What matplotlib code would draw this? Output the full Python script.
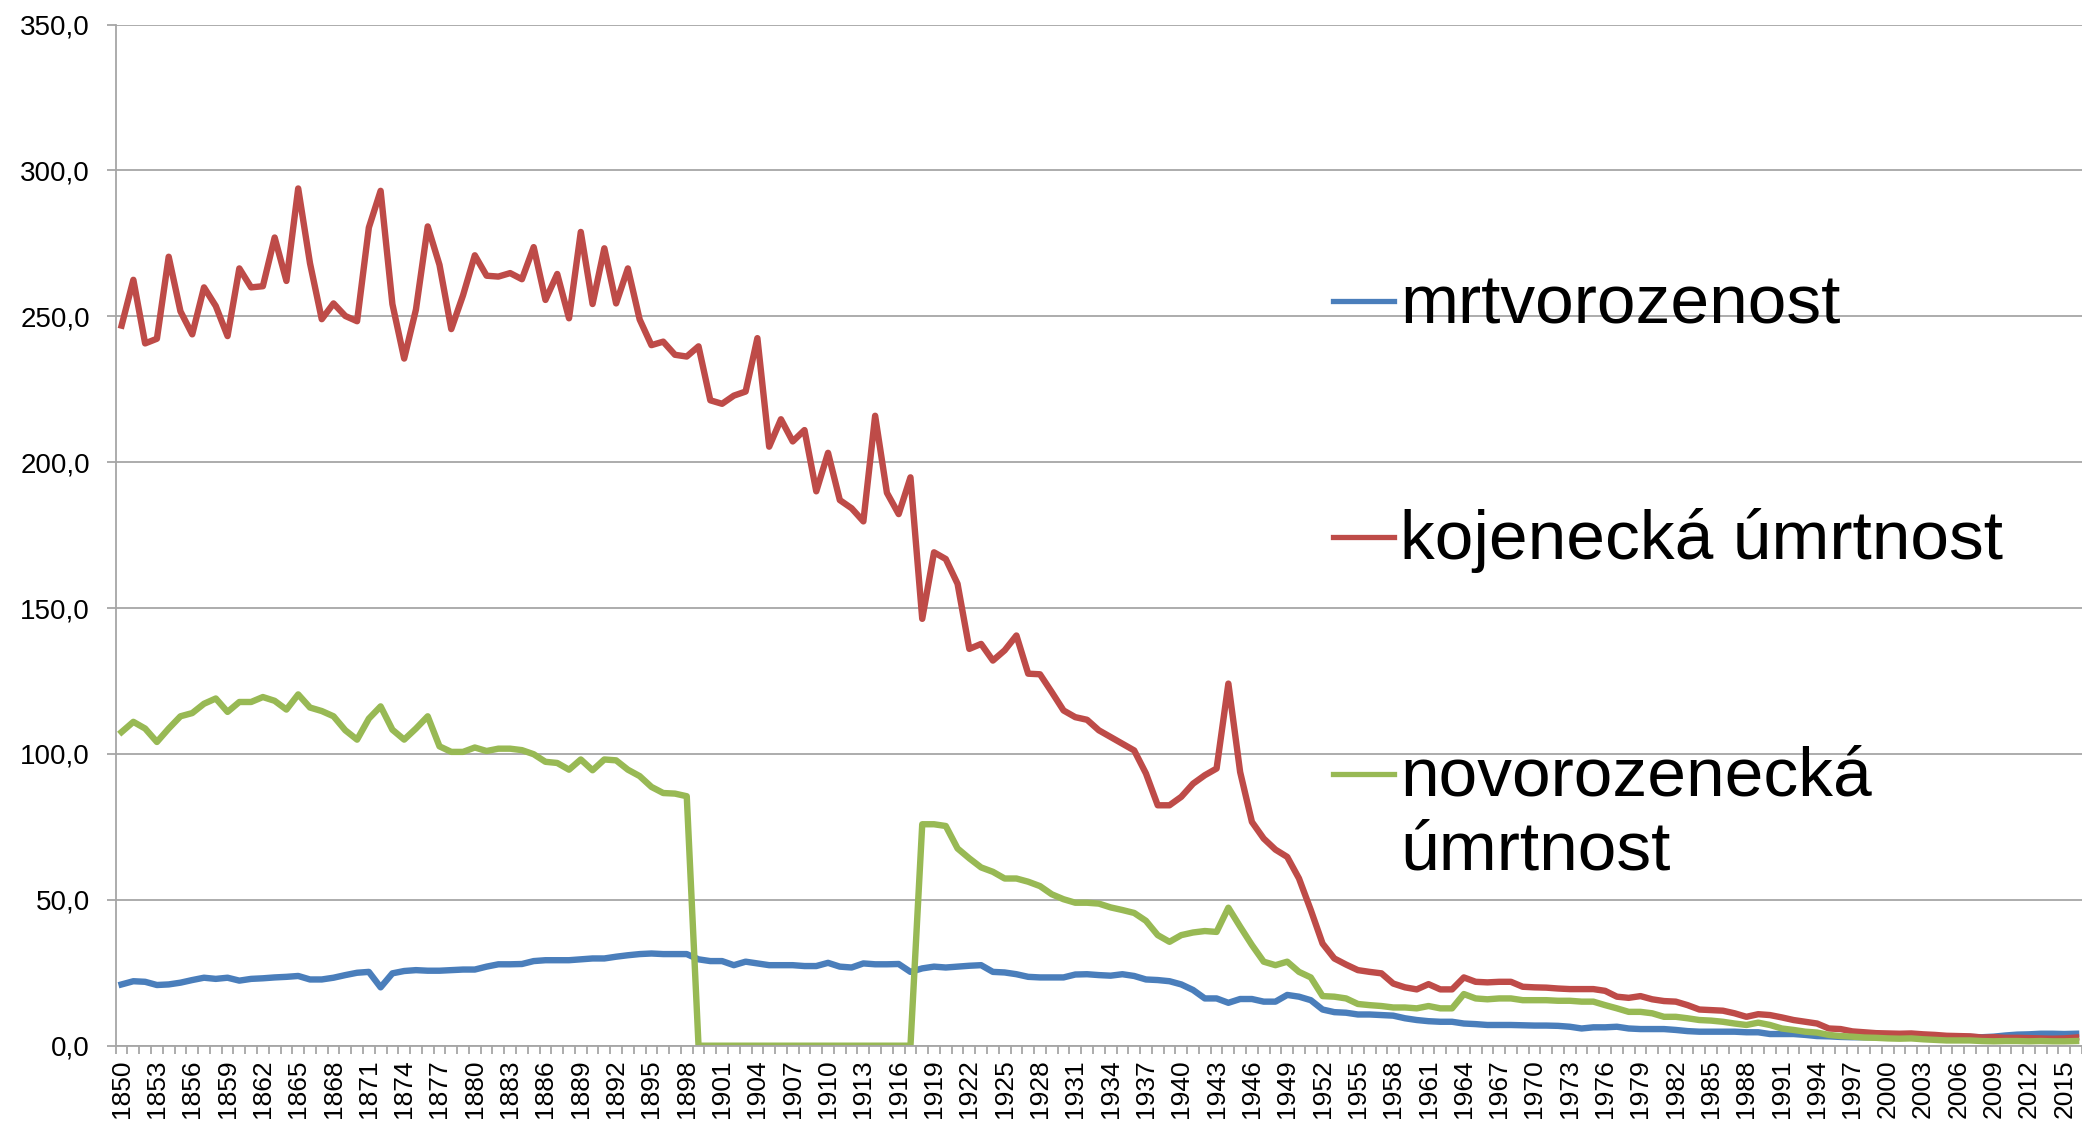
import matplotlib
matplotlib.use("Agg")
import matplotlib.pyplot as plt
from matplotlib.lines import Line2D
import numpy as np

plt.rcParams['font.family'] = ['Liberation Sans', 'DejaVu Sans']

# roky 1850-2016
years = list(range(1850, 2017))

# mrtvorozenost (na 1000 narozených)
mrtvorozenost = [
    21.0, 22.1, 21.9, 20.8, 21.0, 21.6, 22.5, 23.3, 22.9, 23.3,
    22.3, 22.9, 23.1, 23.4, 23.6, 23.9, 22.7, 22.7, 23.3, 24.2,
    25.0, 25.3, 20.0, 24.8, 25.6, 25.9, 25.7, 25.7, 25.9, 26.1,
    26.1, 27.1, 27.9, 27.9, 28.0, 29.0, 29.3, 29.3, 29.3, 29.6,
    29.9, 29.9, 30.5, 31.0, 31.4, 31.6, 31.4, 31.4, 31.4, 29.6,
    29.0, 29.0, 27.6, 28.8, 28.2, 27.6, 27.6, 27.6, 27.3, 27.3,
    28.4, 27.1, 26.8, 28.2, 27.9, 27.9, 28.0, 25.3, 26.5, 27.1,
    26.8, 27.1, 27.4, 27.6, 25.3, 25.1, 24.5, 23.6, 23.4, 23.4,
    23.4, 24.4, 24.5, 24.2, 24.0, 24.5, 23.9, 22.7, 22.5, 22.1,
    21.0, 19.1, 16.2, 16.2, 14.7, 16.0, 16.0, 15.1, 15.1, 17.4,
    16.8, 15.6, 12.4, 11.5, 11.3, 10.7, 10.7, 10.5, 10.3, 9.4,
    8.8, 8.4, 8.2, 8.2, 7.6, 7.4, 7.1, 7.1, 7.1, 7.0,
    6.9, 6.9, 6.8, 6.5, 5.9, 6.3, 6.3, 6.5, 5.9, 5.7,
    5.7, 5.7, 5.4, 5.0, 4.8, 4.8, 4.8, 4.8, 4.6, 4.6,
    4.0, 4.0, 4.0, 3.7, 3.3, 3.2, 3.0, 2.9, 2.9, 2.9,
    3.0, 2.9, 3.1, 3.0, 3.0, 2.9, 3.0, 3.0, 2.9, 3.1,
    3.5, 3.8, 3.9, 4.1, 4.1, 4.0, 4.1,
]

# kojenecká úmrtnost
kojenecka = [
    246.8, 262.5, 240.7, 242.3, 270.4, 251.7, 243.8, 259.9, 253.5, 243.2,
    266.4, 259.9, 260.3, 277.0, 262.1, 293.8, 268.2, 249.0, 254.4, 250.1,
    248.3, 280.4, 293.0, 254.2, 235.5, 252.3, 280.8, 267.6, 245.6, 257.2,
    270.9, 263.9, 263.6, 264.8, 262.7, 273.7, 255.6, 264.5, 249.3, 278.9,
    254.2, 273.3, 254.4, 266.4, 248.9, 240.1, 241.3, 236.8, 236.2, 239.7,
    221.2, 220.0, 222.8, 224.2, 242.5, 205.3, 214.7, 207.1, 211.0, 190.0,
    203.2, 187.0, 184.2, 179.7, 215.9, 189.5, 182.2, 194.8, 146.3, 169.1,
    166.8, 158.3, 136.0, 137.7, 132.0, 135.5, 140.6, 127.5, 127.3, 121.2,
    114.9, 112.6, 111.7, 108.1, 105.8, 103.5, 101.2, 93.3, 82.4, 82.4,
    85.3, 89.8, 92.7, 95.0, 124.1, 93.8, 76.7, 71.0, 67.2, 64.7,
    57.3, 46.5, 35.0, 29.9, 27.8, 25.9, 25.3, 24.8, 21.3, 20.0,
    19.3, 21.1, 19.3, 19.3, 23.4, 21.9, 21.7, 21.9, 21.9, 20.2,
    20.0, 19.9, 19.6, 19.4, 19.4, 19.4, 18.8, 16.8, 16.4, 17.0,
    15.9, 15.3, 15.1, 13.9, 12.4, 12.2, 12.0, 11.1, 9.9, 10.8,
    10.5, 9.7, 8.8, 8.2, 7.6, 5.9, 5.7, 4.9, 4.6, 4.3,
    4.2, 4.1, 4.2, 3.9, 3.7, 3.4, 3.3, 3.2, 2.8, 2.9,
    2.7, 2.7, 2.6, 2.5, 2.4, 2.5, 2.8,
]

# novorozenecká úmrtnost (1899-1917 bez údajů -> 0)
novorozenecka = [
    107.5, 111.0, 108.7, 104.1, 108.7, 112.9, 114.0, 117.2, 119.0, 114.4,
    117.8, 117.8, 119.5, 118.2, 115.2, 120.4, 115.9, 114.7, 112.9, 108.1,
    104.9, 112.1, 116.3, 108.3, 104.9, 108.7, 112.9, 102.6, 100.7, 100.7,
    102.2, 101.0, 101.8, 101.8, 101.3, 99.9, 97.3, 96.9, 94.6, 98.1,
    94.4, 98.1, 97.8, 94.6, 92.4, 88.7, 86.6, 86.4, 85.5, 0.0,
    0.0, 0.0, 0.0, 0.0, 0.0, 0.0, 0.0, 0.0, 0.0, 0.0,
    0.0, 0.0, 0.0, 0.0, 0.0, 0.0, 0.0, 0.0, 75.9, 75.9,
    75.3, 67.6, 64.2, 61.1, 59.6, 57.3, 57.3, 56.2, 54.7, 51.9,
    50.2, 49.0, 49.0, 48.7, 47.4, 46.5, 45.5, 42.8, 37.9, 35.6,
    37.9, 38.8, 39.3, 39.0, 47.3, 40.8, 34.5, 28.8, 27.6, 28.8,
    25.3, 23.4, 17.0, 16.8, 16.2, 14.3, 13.9, 13.6, 13.1, 13.1,
    12.8, 13.6, 12.8, 12.8, 17.7, 16.2, 15.9, 16.2, 16.2, 15.6,
    15.6, 15.6, 15.4, 15.4, 15.1, 15.1, 13.9, 12.8, 11.6, 11.6,
    11.1, 9.9, 9.9, 9.4, 8.8, 8.6, 8.2, 7.6, 7.1, 7.9,
    7.1, 5.9, 5.4, 4.8, 4.5, 3.7, 3.3, 3.1, 2.8, 2.7,
    2.5, 2.4, 2.5, 2.2, 2.0, 1.8, 1.8, 1.8, 1.6, 1.5,
    1.6, 1.6, 1.5, 1.6, 1.5, 1.5, 1.6,
]

labels = ['mrtvorozenost', 'kojenecká úmrtnost', 'novorozenecká\númrtnost']
colors = ['#4A7EBB', '#BE4B48', '#98B954']

W, H = 2082, 1125
fig = plt.figure(figsize=(W / 100, H / 100), dpi=100)
left, bottom, top = 115.7, 1045.7, 24.5
ax = fig.add_axes([left / W, 1 - bottom / H, 1 - left / W, (bottom - top) / H])

x = np.arange(len(years))
for serie, c in zip([mrtvorozenost, kojenecka, novorozenecka], colors):
    ax.plot(x, serie, color=c, linewidth=4.6, solid_joinstyle='round')

ax.set_ylim(0, 350)
ax.set_xlim(-0.5, (W - left) / 11.8 - 0.5)
ax.set_yticks(np.arange(0, 351, 50))
ax.set_yticklabels([f'{v:.1f}'.replace('.', ',') for v in np.arange(0, 351, 50)])
ax.set_xticks(x[::3])
ax.set_xticklabels([str(y) for y in years[::3]], rotation=90)
ax.set_xticks(np.arange(-0.5, len(years), 1), minor=True)

ax.grid(axis='y', color='#A6A6A6', linewidth=1.3)
ax.set_axisbelow(True)
for s in ['top', 'right']:
    ax.spines[s].set_visible(False)
for s in ['left', 'bottom']:
    ax.spines[s].set_color('#A6A6A6')
    ax.spines[s].set_linewidth(1.3)

ax.tick_params(axis='y', length=6.5, width=1.3, color='#A6A6A6', pad=12, labelsize=20)
ax.tick_params(axis='x', which='major', length=0, pad=10, labelsize=19)
ax.tick_params(axis='x', which='minor', length=5.5, width=1.3, color='#A6A6A6')

# legenda vpravo
leg_y = [301, 537, 774]
for lab, c, ly in zip(labels, colors, leg_y):
    fig.add_artist(Line2D([1333 / W, 1394 / W], [1 - ly / H, 1 - ly / H],
                          color=c, linewidth=3.8, transform=fig.transFigure))
    for k, line in enumerate(lab.split('\n')):
        fig.text(1400 / W, 1 - (ly + 22 + 73 * k) / H, line, fontsize=50,
                 ha='left', va='baseline', color='black')

fig.savefig('out.png', dpi=100)
